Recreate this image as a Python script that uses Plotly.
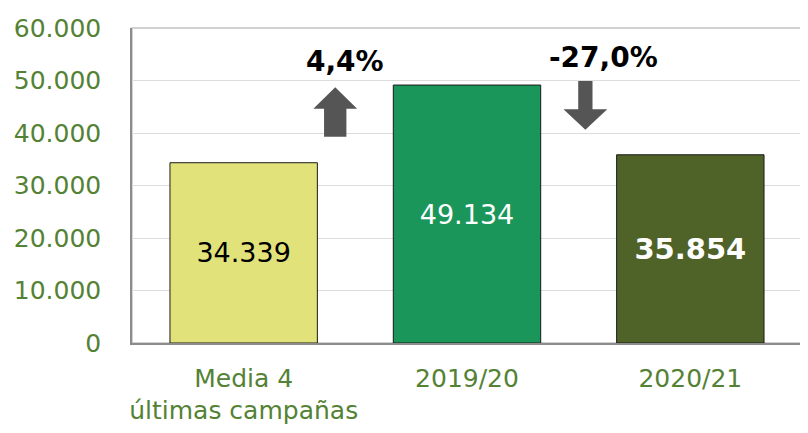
import plotly.graph_objects as go

categories = ['Media 4<br>últimas campañas', '2019/20', '2020/21']
values = [34339, 49134, 35854]
value_labels = ['34.339', '49.134', '35.854']
bar_colors = ['#E2E27B', '#1A965A', '#4F6228']
text_colors = ['black', 'white', 'white']
text_weights = ['normal', 'normal', 'bold']
changes = ['4,4%', '-27,0%']
tick_vals = [0, 10000, 20000, 30000, 40000, 50000, 60000]
tick_text = ['0', '10.000', '20.000', '30.000', '40.000', '50.000', '60.000']

green = '#548235'
font = 'DejaVu Sans'

x_pos = list(range(len(categories)))

fig = go.Figure()
fig.add_trace(go.Bar(
    x=x_pos,
    y=values,
    width=0.66,
    marker=dict(color=bar_colors, line=dict(color='#1a1a1a', width=1)),
    text=[f'<b>{t}</b>' if w == 'bold' else t for t, w in zip(value_labels, text_weights)],
    textposition='inside',
    insidetextanchor='middle',
    textangle=0,
    textfont=dict(family=font, size=[27, 27, 29], color=text_colors),
    hoverinfo='skip',
))

# border of plot area
fig.add_shape(type='rect', xref='paper', yref='paper', x0=0, x1=1, y0=0, y1=1,
              line=dict(color='#c4c4c4', width=1.5), layer='below')

# up arrow between bar 1 and 2
ux, uw, sw = 0.41, 0.098, 0.05
fig.add_shape(type='path', xref='x', yref='y', fillcolor='#555555', line=dict(width=0),
              path=(f'M {ux-sw} 39300 L {ux+sw} 39300 L {ux+sw} 44600 L {ux+uw} 44600 '
                    f'L {ux} 48700 L {ux-uw} 44600 L {ux-sw} 44600 Z'))
# down arrow between bar 2 and 3
dx, dw, dsw = 1.53, 0.098, 0.032
fig.add_shape(type='path', xref='x', yref='y', fillcolor='#555555', line=dict(width=0),
              path=(f'M {dx-dsw} 49900 L {dx+dsw} 49900 L {dx+dsw} 44500 L {dx+dw} 44500 '
                    f'L {dx} 40600 L {dx-dw} 44500 L {dx-dsw} 44500 Z'))

fig.add_annotation(x=0.455, y=53700, xref='x', yref='y', text=f'<b>{changes[0]}</b>',
                   showarrow=False, font=dict(family=font, size=28, color='black'))
fig.add_annotation(x=1.61, y=54300, xref='x', yref='y', text=f'<b>{changes[1]}</b>',
                   showarrow=False, font=dict(family=font, size=28, color='black'))

fig.update_layout(
    width=800, height=425,
    margin=dict(l=120, r=6, t=17, b=90),
    plot_bgcolor='white',
    paper_bgcolor='white',
    showlegend=False,
    font=dict(family=font, color=green),
    xaxis=dict(
        range=[-0.5, 2.5],
        tickvals=x_pos,
        ticktext=categories,
        tickfont=dict(family=font, size=25, color=green),
        showgrid=False,
        showline=True, linecolor='#8c8c8c', linewidth=1.5,
        ticks='', ticklabelstandoff=12,
        zeroline=False,
    ),
    yaxis=dict(
        range=[0, 60000],
        tickvals=tick_vals,
        ticktext=tick_text,
        tickfont=dict(family=font, size=25, color=green),
        showgrid=True, gridcolor='#dcdcdc', gridwidth=1,
        showline=True, linecolor='#8c8c8c', linewidth=1.5,
        ticks='', ticklabelstandoff=24,
        zeroline=False,
    ),
)

fig.write_html('out.html')
